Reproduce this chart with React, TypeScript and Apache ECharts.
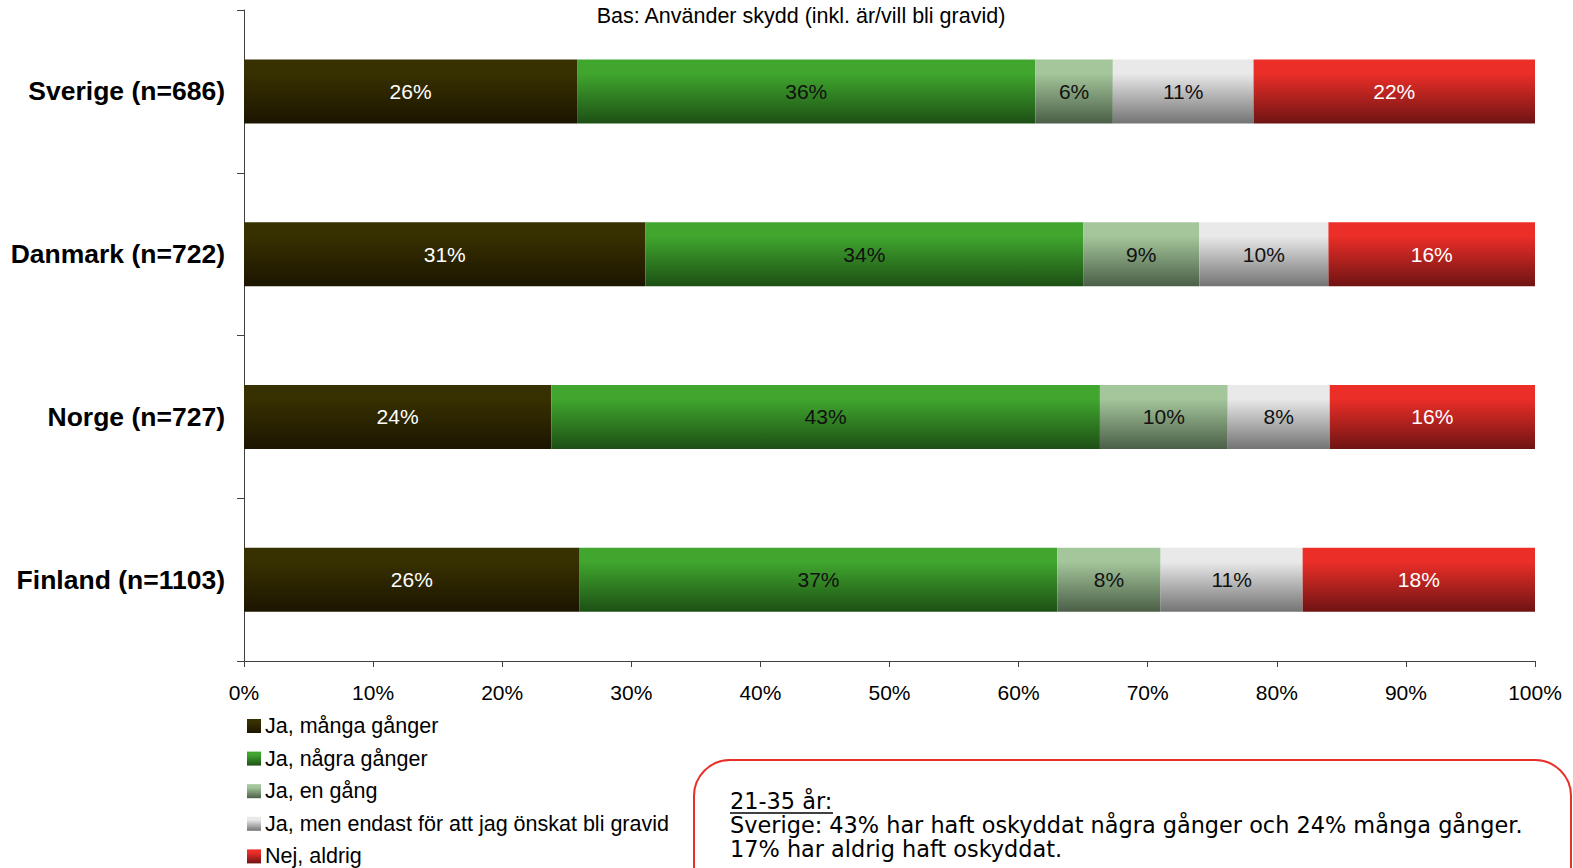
import React, { useEffect, useRef } from "react";
import * as echarts from "echarts";

const countries = ["Sverige (n=686)", "Danmark (n=722)", "Norge (n=727)", "Finland (n=1103)"];
const seriesNames = [
  "Ja, många gånger",
  "Ja, några gånger",
  "Ja, en gång",
  "Ja, men endast för att jag önskat bli gravid",
  "Nej, aldrig",
];
const mangaGanger = [25.8, 31.1, 23.8, 26.0];
const nagraGanger = [35.5, 33.9, 42.5, 37.0];
const enGang = [6.0, 9.0, 9.9, 8.0];
const endastGravid = [10.9, 10.0, 7.9, 11.0];
const nejAldrig = [21.8, 16.0, 15.9, 18.0];
const seriesValues = [mangaGanger, nagraGanger, enGang, endastGravid, nejAldrig];

const subtitle = "Bas: Använder skydd (inkl. är/vill bli gravid)";
const noteHeading = "21-35 år:";
const noteLines = [
  "Sverige: 43% har haft oskyddat några gånger och 24% många gånger.",
  "17% har aldrig haft oskyddat.",
];

const gradients = [
  ["#373000", "#1c1500"],
  ["#40a62e", "#1d5015"],
  ["#a4c69b", "#4b5f47"],
  ["#e9e9e9", "#747474"],
  ["#eb2e28", "#6e1413"],
];
const labelColors = ["#ffffff", "#111111", "#111111", "#111111", "#ffffff"];

export default function App() {
  const ref = useRef<HTMLDivElement>(null);
  useEffect(() => {
    if (!ref.current) return;
    const chart = echarts.init(ref.current, null, { renderer: "svg" });
    const font = "'Liberation Sans', Arial, sans-serif";
    const series = seriesNames.map((name, i) => ({
      name,
      type: "bar",
      stack: "total",
      barWidth: 64,
      data: seriesValues[i],
      itemStyle: {
        color: new echarts.graphic.LinearGradient(0, 0, 0, 1, [
          { offset: 0, color: gradients[i][0] },
          { offset: 0.22, color: gradients[i][0] },
          { offset: 1, color: gradients[i][1] },
        ]),
      },
      label: {
        show: true,
        position: "inside",
        formatter: (p: any) => Math.round(p.value) + "%",
        color: labelColors[i],
        fontFamily: font,
        fontSize: 21,
      },
    }));
    chart.setOption({
      animation: false,
      backgroundColor: "#ffffff",
      grid: { left: 244, right: 38, top: 10, bottom: 207, containLabel: false },
      xAxis: {
        type: "value",
        min: 0,
        max: 100,
        interval: 10,
        axisLine: { show: true, lineStyle: { color: "#404040", width: 1 } },
        axisTick: { show: true, length: 6, lineStyle: { color: "#404040" } },
        splitLine: { show: false },
        axisLabel: {
          formatter: "{value}%",
          color: "#000",
          fontFamily: font,
          fontSize: 21,
          margin: 21,
        },
      },
      yAxis: {
        type: "category",
        data: countries,
        inverse: true,
        axisLine: { show: true, lineStyle: { color: "#404040", width: 1 } },
        axisTick: { show: true, length: 7, lineStyle: { color: "#404040" } },
        axisLabel: {
          color: "#000",
          fontFamily: font,
          fontSize: 26.5,
          fontWeight: "bold",
          margin: 19,
        },
      },
      legend: {
        orient: "vertical",
        left: 247,
        top: 715,
        height: 250,
        padding: 0,
        itemWidth: 14,
        itemHeight: 14,
        itemGap: 10.6,
        icon: "rect",
        textStyle: { color: "#000", fontFamily: font, fontSize: 21.5, lineHeight: 20, padding: [0, 0, 0, -1] },
        data: seriesNames,
      },
      graphic: [
        {
          type: "text",
          x: 801,
          y: 16,
          style: {
            text: subtitle,
            fill: "#000",
            font: `21.5px ${font}`,
            textAlign: "center",
            textVerticalAlign: "middle",
          },
        },
        {
          type: "rect",
          shape: { x: 694, y: 760, width: 877, height: 170, r: 36 },
          style: { fill: "none", stroke: "#e8302a", lineWidth: 2 },
        },
        {
          type: "text",
          x: 730,
          y: 800.5,
          style: {
            text: noteHeading,
            fill: "#000",
            font: "22.4px 'DejaVu Sans', sans-serif",
            textVerticalAlign: "middle",
          },
        },
        {
          type: "line",
          shape: { x1: 730, y1: 813, x2: 833, y2: 813 },
          style: { stroke: "#000", lineWidth: 1.5 },
        },
        ...noteLines.map((t, i) => ({
          type: "text",
          x: 730,
          y: 824.6 + i * 24.1,
          style: {
            text: t,
            fill: "#000",
            font: "22.4px 'DejaVu Sans', sans-serif",
            textVerticalAlign: "middle",
          },
        })),
      ],
      series,
    });
    return () => chart.dispose();
  }, []);
  return <div ref={ref} style={{ width: 1573, height: 868, position: "absolute", left: 0, top: 0 }} />;
}
